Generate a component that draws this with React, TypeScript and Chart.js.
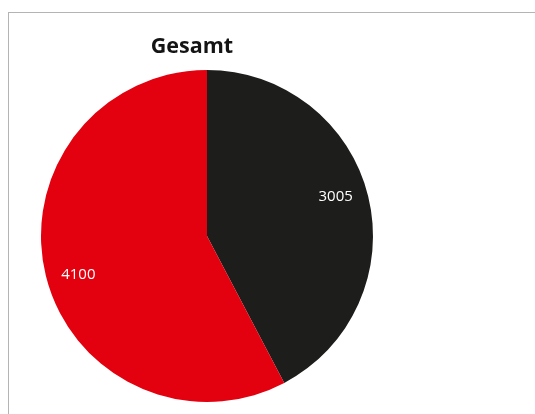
import React, { useEffect, useRef } from "react";
import { Chart, registerables } from "chart.js";

Chart.register(...registerables);

const categories: string[] = ["Schwarz", "Rot"];
const values: number[] = [3005, 4100];
const colors: string[] = ["#1d1d1b", "#e3000f"];
const titleText = "Gesamt";

const labelPlugin = {
  id: "sliceLabels",
  afterDatasetsDraw(chart: any) {
    const ctx = chart.ctx;
    const meta = chart.getDatasetMeta(0);
    ctx.save();
    ctx.font = '15px "Open Sans", sans-serif';
    ctx.fillStyle = "#ffffff";
    ctx.textAlign = "center";
    ctx.textBaseline = "middle";
    meta.data.forEach((arc: any, i: number) => {
      const { x, y, startAngle, endAngle, outerRadius } = arc.getProps(
        ["x", "y", "startAngle", "endAngle", "outerRadius"],
        true
      );
      const mid = (startAngle + endAngle) / 2 - (3 * Math.PI) / 180;
      const r = outerRadius * 0.81;
      ctx.fillText(String(values[i]), x + Math.cos(mid) * r, y + Math.sin(mid) * r);
    });
    ctx.restore();
  },
};

const titlePlugin = {
  id: "customTitle",
  afterDraw(chart: any) {
    const ctx = chart.ctx;
    ctx.save();
    ctx.font = 'bold 21.5px "Open Sans", sans-serif';
    ctx.fillStyle = "#141414";
    ctx.textAlign = "center";
    ctx.textBaseline = "middle";
    ctx.fillText(titleText, 192, 47);
    ctx.restore();
  },
};

export default function App() {
  const canvasRef = useRef<HTMLCanvasElement | null>(null);

  useEffect(() => {
    if (!canvasRef.current) return;
    const chart = new Chart(canvasRef.current, {
      type: "pie",
      data: {
        labels: categories,
        datasets: [
          {
            data: values,
            backgroundColor: colors,
            borderWidth: 0,
          },
        ],
      },
      options: {
        animation: false,
        responsive: false,
        maintainAspectRatio: false,
        layout: { padding: { left: 41, top: 70, right: 162, bottom: 12 } },
        plugins: {
          legend: { display: false },
          title: { display: false },
          tooltip: { enabled: false },
        },
      },
      plugins: [labelPlugin, titlePlugin],
    });
    return () => chart.destroy();
  }, []);

  return (
    <div
      style={{
        position: "fixed",
        left: 0,
        top: 0,
        width: 535,
        height: 414,
        background: "#ffffff",
        overflow: "hidden",
      }}
    >
      <div
        style={{
          position: "absolute",
          left: 8,
          top: 12,
          width: 600,
          height: 500,
          border: "1px solid #b4b4b4",
          boxSizing: "border-box",
        }}
      />
      <canvas
        ref={canvasRef}
        width={535}
        height={414}
        style={{ position: "absolute", left: 0, top: 0, width: 535, height: 414 }}
      />
    </div>
  );
}
